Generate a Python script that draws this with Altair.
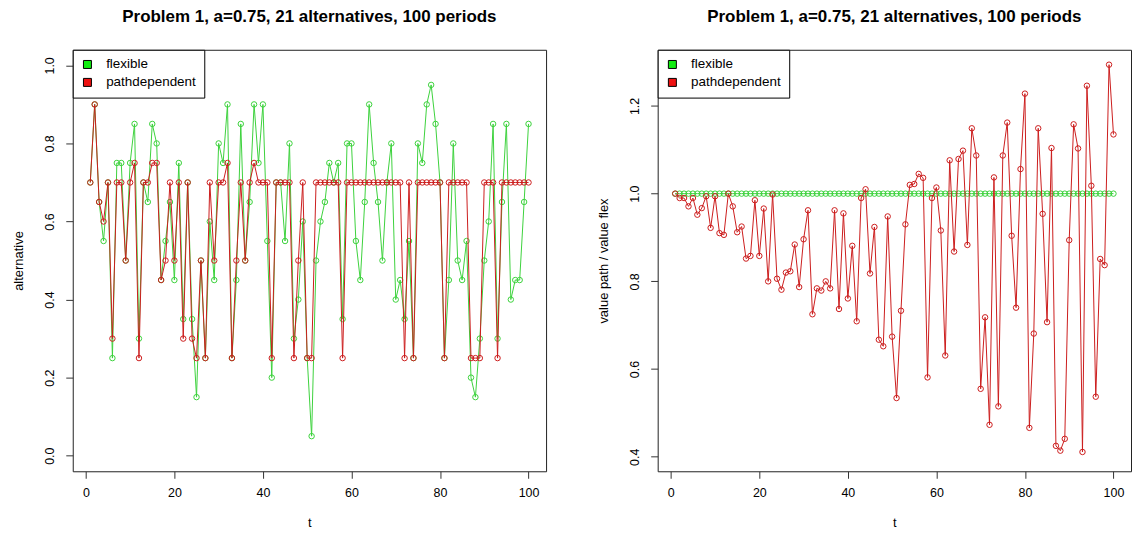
import altair as alt
import pandas as pd

t_values = list(range(1, 101))

alt_flexible = [
    0.70, 0.90, 0.65, 0.55, 0.70, 0.25, 0.75, 0.75, 0.50, 0.75,
    0.85, 0.30, 0.70, 0.65, 0.85, 0.80, 0.45, 0.55, 0.65, 0.45,
    0.75, 0.35, 0.70, 0.35, 0.15, 0.50, 0.25, 0.60, 0.45, 0.80,
    0.75, 0.90, 0.25, 0.45, 0.85, 0.50, 0.65, 0.90, 0.75, 0.90,
    0.55, 0.20, 0.70, 0.70, 0.55, 0.80, 0.30, 0.40, 0.60, 0.25,
    0.05, 0.50, 0.60, 0.65, 0.75, 0.70, 0.75, 0.35, 0.80, 0.80,
    0.55, 0.45, 0.65, 0.90, 0.75, 0.65, 0.50, 0.70, 0.80, 0.40,
    0.45, 0.35, 0.55, 0.25, 0.80, 0.75, 0.90, 0.95, 0.85, 0.70,
    0.25, 0.45, 0.80, 0.50, 0.45, 0.55, 0.20, 0.15, 0.30, 0.50,
    0.60, 0.85, 0.30, 0.65, 0.85, 0.40, 0.45, 0.45, 0.65, 0.85,
]

alt_path = [
    0.70, 0.90, 0.65, 0.60, 0.70, 0.30, 0.70, 0.70, 0.50, 0.70,
    0.75, 0.25, 0.70, 0.70, 0.75, 0.75, 0.45, 0.50, 0.70, 0.50,
    0.70, 0.30, 0.70, 0.30, 0.25, 0.50, 0.25, 0.70, 0.50, 0.70,
    0.70, 0.75, 0.25, 0.50, 0.70, 0.50, 0.70, 0.75, 0.70, 0.70,
    0.70, 0.25, 0.70, 0.70, 0.70, 0.70, 0.25, 0.50, 0.70, 0.25,
    0.25, 0.70, 0.70, 0.70, 0.70, 0.70, 0.70, 0.25, 0.70, 0.70,
    0.70, 0.70, 0.70, 0.70, 0.70, 0.70, 0.70, 0.70, 0.70, 0.70,
    0.70, 0.25, 0.70, 0.25, 0.70, 0.70, 0.70, 0.70, 0.70, 0.70,
    0.25, 0.70, 0.70, 0.70, 0.70, 0.70, 0.25, 0.25, 0.25, 0.70,
    0.70, 0.70, 0.25, 0.70, 0.70, 0.70, 0.70, 0.70, 0.70, 0.70,
]

val_flexible = [
    1.0, 1.0, 1.0, 1.0, 1.0, 1.0, 1.0, 1.0, 1.0, 1.0,
    1.0, 1.0, 1.0, 1.0, 1.0, 1.0, 1.0, 1.0, 1.0, 1.0,
    1.0, 1.0, 1.0, 1.0, 1.0, 1.0, 1.0, 1.0, 1.0, 1.0,
    1.0, 1.0, 1.0, 1.0, 1.0, 1.0, 1.0, 1.0, 1.0, 1.0,
    1.0, 1.0, 1.0, 1.0, 1.0, 1.0, 1.0, 1.0, 1.0, 1.0,
    1.0, 1.0, 1.0, 1.0, 1.0, 1.0, 1.0, 1.0, 1.0, 1.0,
    1.0, 1.0, 1.0, 1.0, 1.0, 1.0, 1.0, 1.0, 1.0, 1.0,
    1.0, 1.0, 1.0, 1.0, 1.0, 1.0, 1.0, 1.0, 1.0, 1.0,
    1.0, 1.0, 1.0, 1.0, 1.0, 1.0, 1.0, 1.0, 1.0, 1.0,
    1.0, 1.0, 1.0, 1.0, 1.0, 1.0, 1.0, 1.0, 1.0, 1.0,
]

val_path = [
    1.000, 0.990, 0.990, 0.971, 0.990, 0.952, 0.967, 0.994, 0.922, 0.994,
    0.910, 0.906, 1.000, 0.971, 0.912, 0.925, 0.852, 0.858, 0.985, 0.858,
    0.966, 0.800, 0.998, 0.806, 0.781, 0.820, 0.823, 0.884, 0.787, 0.896,
    0.962, 0.725, 0.784, 0.779, 0.800, 0.784, 0.962, 0.737, 0.955, 0.761,
    0.881, 0.709, 0.990, 1.010, 0.818, 0.924, 0.667, 0.652, 0.948, 0.674,
    0.534, 0.733, 0.930, 1.020, 1.022, 1.045, 1.036, 0.581, 0.990, 1.014,
    0.916, 0.631, 1.076, 0.868, 1.079, 1.098, 0.883, 1.149, 1.087, 0.555,
    0.718, 0.473, 1.037, 0.515, 1.087, 1.162, 0.904, 0.740, 1.056, 1.228,
    0.466, 0.681, 1.149, 0.954, 0.707, 1.104, 0.425, 0.414, 0.441, 0.894,
    1.158, 1.103, 0.411, 1.246, 1.018, 0.537, 0.851, 0.837, 1.294, 1.135,
]

series = ["flexible", "pathdependent"]
line_colors = ["#3dd23d", "#cc1e1e"]
legend_fills = ["#11ee11", "#ee1111"]
title_text = "Problem 1, a=0.75, 21 alternatives, 100 periods"
x_ticks = [0, 20, 40, 60, 80, 100]
FONT = "Liberation Sans"


def panel(flex_vals, path_vals, ytitle, ydomain, yticks):
    df = pd.concat([
        pd.DataFrame({"t": t_values, "v": flex_vals, "s": series[0]}),
        pd.DataFrame({"t": t_values, "v": path_vals, "s": series[1]}),
    ], ignore_index=True)
    x = alt.X("t:Q",
              scale=alt.Scale(domain=[-2.96, 103.96], nice=False, zero=False),
              axis=alt.Axis(values=x_ticks, title="t", format="d"))
    y = alt.Y("v:Q",
              scale=alt.Scale(domain=ydomain, nice=False, zero=False),
              axis=alt.Axis(values=yticks, format=".1f", title=ytitle,
                            labelAngle=270, labelAlign="center",
                            labelBaseline="bottom"))
    color = alt.Color("s:N", scale=alt.Scale(domain=series, range=line_colors),
                      legend=None)

    base = alt.Chart(df).encode(x=x, y=y, color=color)
    layers = []
    for name in series:
        sub = base.transform_filter(alt.datum.s == name)
        layers.append(sub.mark_line(strokeWidth=1))
        layers.append(sub.mark_point(shape="circle", filled=False, size=30,
                                     strokeWidth=1, opacity=1))

    legend_layer = (
        alt.Chart(df)
        .mark_point(shape="square", filled=True, size=0, opacity=1)
        .encode(
            x=x, y=y,
            fill=alt.Fill("s:N",
                          scale=alt.Scale(domain=series, range=legend_fills),
                          legend=alt.Legend(
                              title=None, orient="top-left", offset=0,
                              padding=8, strokeColor="black",
                              fillColor="white",
                              symbolType="square", symbolSize=64,
                              symbolStrokeColor="black", symbolStrokeWidth=1,
                              symbolOpacity=1, labelOffset=12,
                              labelFont=FONT, labelFontSize=13.5,
                              labelColor="black", rowPadding=3)),
        )
    )
    return alt.layer(*layers, legend_layer).properties(
        width=475, height=423,
        title=alt.TitleParams(text=title_text, font=FONT, fontSize=17,
                              fontWeight="bold", color="black",
                              anchor="middle", offset=23),
    )


left = panel(alt_flexible, alt_path, "alternative", [-0.04, 1.04],
             [0.0, 0.2, 0.4, 0.6, 0.8, 1.0])
right = panel(val_flexible, val_path, "value path / value flex",
              [0.367, 1.328], [0.4, 0.6, 0.8, 1.0, 1.2])

chart = (
    alt.hconcat(left, right, spacing=50)
    .resolve_scale(fill="independent")
    .resolve_legend(fill="independent")
    .configure_view(stroke="#222222", strokeWidth=1)
    .configure_axis(grid=False, domain=False, tickColor="#333333", tickSize=7,
                    labelFont=FONT, labelFontSize=12.5, labelColor="black",
                    titleFont=FONT, titleFontSize=13, titleFontWeight="normal",
                    titleColor="black", labelPadding=8, labelFlush=False,
                    labelOverlap=False)
    .configure_axisY(labelPadding=9, titlePadding=18)
    .configure_axisX(titlePadding=18)
    .properties(padding={"left": 12, "top": 7, "right": 0, "bottom": 5},
                background="white")
)

chart.save("out.html", embed_options={"renderer": "svg", "actions": False})
